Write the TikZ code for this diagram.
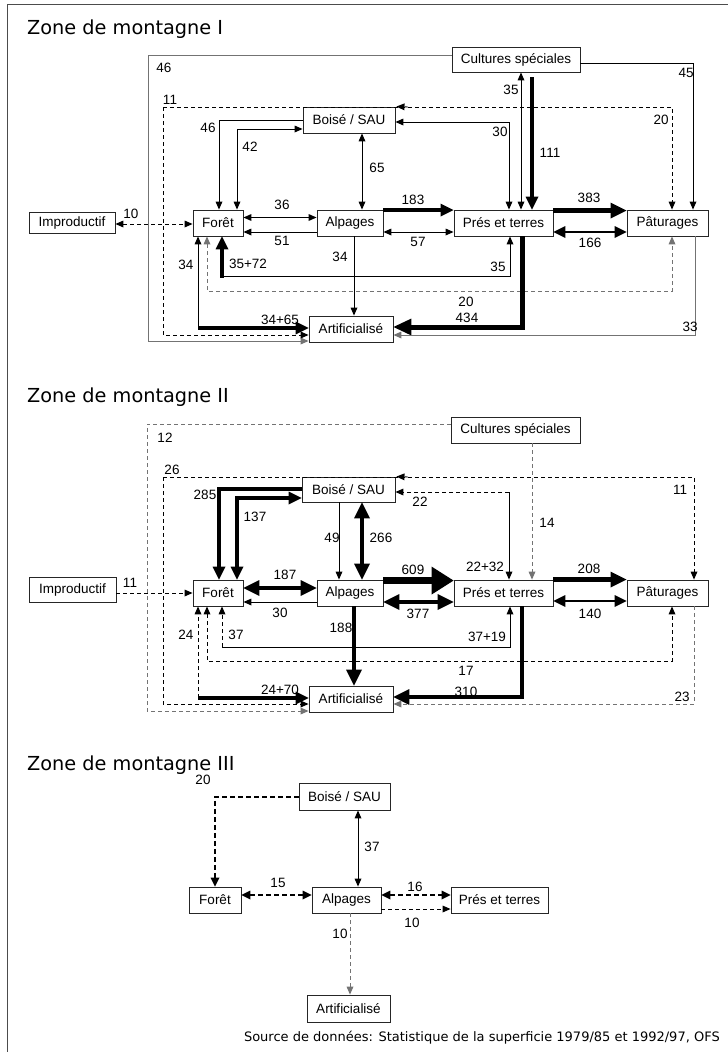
\documentclass[tikz,border=0pt]{standalone}
\usepackage{fontspec}
\setmainfont{Liberation Sans}
\newfontfamily\ttlfont{DejaVu Sans}
\usetikzlibrary{arrows.meta}
\newcommand\labfont{\fontsize{13.5}{15}\selectfont}
\newcommand\titfont{\ttlfont\fontsize{19.3}{22}\selectfont}
\newcommand\srcfont{\ttlfont\fontsize{13}{15}\selectfont}
\colorlet{grayone}{black!55}
\tikzset{
  box/.style={draw=black!85, line width=0.9pt, inner sep=0pt, font=\labfont, fill=white},
  lbl/.style={font=\labfont, inner sep=0pt},
  th/.style={line width=0.9pt, >={Triangle[length=8pt,width=7pt,line width=0pt]}},
  wtwo/.style={line width=2.5pt, >={Triangle[length=12pt,width=12pt,line width=0pt]}},
  wthree/.style={line width=3.2pt, >={Triangle[length=13pt,width=13pt,line width=0pt]}},
  wfour/.style={line width=4.2pt, >={Triangle[length=16pt,width=16pt,line width=0pt]}},
  wfive/.style={line width=5pt, >={Triangle[length=18pt,width=17pt,line width=0pt]}},
  wseven/.style={line width=7pt, >={Triangle[length=22pt,width=28pt,line width=0pt]}},
  ds/.style={dash pattern=on 4pt off 3pt},
  dzthree/.style={line width=2pt, dash pattern=on 5pt off 3pt, >={Triangle[length=9pt,width=9pt,line width=0pt]}},
}
\begin{document}
\begin{tikzpicture}[x=1pt,y=-1pt]
\useasboundingbox (0,0) rectangle (728,1052);
\fill[white] (0,0) rectangle (728,1052);
\draw[line width=1pt, black!70] (7,1052) -- (7,4) -- (728,4);

% ===================== Zone I =====================
\node[anchor=base west, inner sep=0pt, font=\titfont] (t1) at (27,34) {Zone de montagne I};

\node[box, minimum width=128pt, minimum height=25pt] (cs1) at (516,59.5) {Cultures spéciales};
\node[box, minimum width=92pt, minimum height=26pt] (bs1) at (349,120) {Boisé / SAU};
\node[box, minimum width=50pt, minimum height=26pt] (fo1) at (218,223) {Forêt};
\node[box, minimum width=66pt, minimum height=26pt] (al1) at (350,223) {Alpages};
\node[box, minimum width=99pt, minimum height=26pt] (pt1) at (503.5,223) {Prés et terres};
\node[box, minimum width=81pt, minimum height=26pt] (pa1) at (667.5,223) {Pâturages};
\node[box, minimum width=86pt, minimum height=21pt] (im1) at (72,223) {Improductif};
\node[box, minimum width=84pt, minimum height=26pt] (ar1) at (351,329) {Artificialisé};

\draw[th, grayone, ->] ([yshift=4.5pt]cs1.west) -| (148,341) -- ([yshift=-12pt]ar1.west);
\coordinate (cA) at (163,107);
\draw[th, ds, ->] (cA) |- ([yshift=-6pt]ar1.west);
\draw[th, ds, ->] (cA) -| ([xshift=4.5pt]pa1.north);
\draw[th, ->] (408,107) -- ([xshift=1pt]bs1.north east);
\draw[th, ->] ([yshift=-3.5pt]cs1.east) -| ([xshift=25.5pt]pa1.north);
\draw[th, <->] ([xshift=5pt]cs1.south) -- ([xshift=17.5pt]pt1.north);
\draw[wthree, ->] ([xshift=16pt,yshift=-5pt]cs1.south) -- ([xshift=28.5pt]pt1.north);
\draw[th, <->] ([xshift=5.5pt]pt1.north) |- ([yshift=-2pt]bs1.east);
\draw[th, ->] (bs1.west) -| ([xshift=1pt]fo1.north);
\draw[th, <->] ([xshift=19pt]fo1.north) |- ([yshift=-9pt]bs1.west);
\draw[th, <->] ([xshift=13pt]bs1.south) -- ([xshift=12pt]al1.north);
\draw[th, <->] ([yshift=5.5pt]fo1.east) -- ([yshift=5.5pt]al1.west);
\draw[th, ->] ([yshift=-9pt]al1.west) -- ([yshift=-9pt]fo1.east);
\draw[wthree, ->] ([yshift=-0.5pt]al1.north east) -- ([yshift=-0.5pt]pt1.north west);
\draw[th, <->] ([yshift=-9pt]al1.east) -- ([yshift=-9pt]pt1.west);
\draw[wfour, ->] ([yshift=-1pt]pt1.north east) -- ([yshift=-1pt]pa1.north west);
\draw[wtwo, <->] ([yshift=-9pt]pt1.east) -- ([yshift=-9pt]pa1.west);
\draw[th, ds, <->] ([yshift=-1pt]im1.east) -- ([yshift=-1pt]fo1.west);
\coordinate (k1) at (198,328);
\draw[th, ->] (k1) -- ([xshift=-20pt]fo1.south);
\draw[wthree, ->] (k1) -- ([yshift=1pt]ar1.west);
\draw[th, ds, grayone, <->] ([xshift=-11pt]fo1.south) |- (672,291) -- ([xshift=4.5pt]pa1.south);
\coordinate (k2) at (222,276);
\draw[th, ->] (k2) -| ([xshift=6.5pt]pt1.south);
\draw[wthree, ->] ([yshift=-1.5pt]k2) -- ([xshift=4pt]fo1.south);
\draw[th, ->] ([xshift=4pt]al1.south) -- ([xshift=3pt]ar1.north);
\draw[wfive, ->] ([xshift=18.5pt]pt1.south) |- ([yshift=2pt]ar1.east);
\draw[th, grayone, ->] ([xshift=27.5pt]pa1.south) |- ([yshift=-6pt]ar1.east);

\node[lbl] (a1) at (164,68) {46};
\node[lbl] (a2) at (170,100) {11};
\node[lbl] (a3) at (208,128) {46};
\node[lbl] (a4) at (250,147) {42};
\node[lbl] (a5) at (377,168) {65};
\node[lbl] (a6) at (511,90) {35};
\node[lbl] (a7) at (550,153) {111};
\node[lbl] (a8) at (500,132) {30};
\node[lbl] (a9) at (686,73) {45};
\node[lbl] (a10) at (661,120) {20};
\node[lbl] (a11) at (282,205) {36};
\node[lbl] (a12) at (282,241) {51};
\node[lbl] (a13) at (413,200) {183};
\node[lbl] (a14) at (418,242) {57};
\node[lbl] (a15) at (589,198) {383};
\node[lbl] (a16) at (590,243) {166};
\node[lbl] (a17) at (131,214) {10};
\node[lbl] (a18) at (186,265) {34};
\node[lbl] (a19) at (248,264) {35+72};
\node[lbl] (a20) at (340,257) {34};
\node[lbl] (a21) at (498,267) {35};
\node[lbl] (a22) at (466,302) {20};
\node[lbl] (a23) at (467,318) {434};
\node[lbl] (a24) at (280,320) {34+65};
\node[lbl] (a25) at (690,327) {33};

% ===================== Zone II =====================
\node[anchor=base west, inner sep=0pt, font=\titfont] (t2) at (27,402) {Zone de montagne II};

\node[box, minimum width=129pt, minimum height=26pt] (cs2) at (515.5,430) {Cultures spéciales};
\node[box, minimum width=93pt, minimum height=25pt] (bs2) at (348.5,489.5) {Boisé / SAU};
\node[box, minimum width=50pt, minimum height=26pt] (fo2) at (218,593) {Forêt};
\node[box, minimum width=66pt, minimum height=26pt] (al2) at (350,593) {Alpages};
\node[box, minimum width=99pt, minimum height=26pt] (pt2) at (503.5,593) {Prés et terres};
\node[box, minimum width=81pt, minimum height=26pt] (pa2) at (667.5,593) {Pâturages};
\node[box, minimum width=87pt, minimum height=25pt] (im2) at (72.5,590) {Improductif};
\node[box, minimum width=84pt, minimum height=26pt] (ar2) at (351,699) {Artificialisé};

\draw[th, ds, grayone, ->] ([yshift=6pt]cs2.west) -| (147,711) -- ([yshift=-12pt]ar2.west);
\coordinate (cB) at (163,477);
\draw[th, ds, ->] (cB) |- ([yshift=-5pt]ar2.west);
\draw[th, ds, ->] (cB) -| ([xshift=26.5pt]pa2.north);
\draw[th, ->] (408,477) -- ([xshift=1pt]bs2.north east);
\draw[wthree, ->] ([yshift=0.5pt]bs2.west) -| ([xshift=1pt]fo2.north);
\draw[wthree, <->] ([xshift=19pt]fo2.north) |- ([yshift=-8.5pt]bs2.west);
\draw[th, ->] ([xshift=-9.5pt]bs2.south) -- ([xshift=-11pt]al2.north);
\draw[wfour, <->] ([xshift=13.5pt]bs2.south) -- ([xshift=12pt]al2.north);
\coordinate (k3) at (509,492);
\draw[th, ->] (k3) -- ([xshift=5.5pt]pt2.north);
\draw[th, ds, ->] (k3) -- ([yshift=-2.5pt]bs2.east);
\draw[th, ds, grayone, ->] ([xshift=16.5pt]cs2.south) -- ([xshift=28.5pt]pt2.north);
\draw[th, ds, ->] ([yshift=-3pt]im2.east) -- (fo2.west);
\draw[wfour, <->] ([yshift=5pt]fo2.east) -- ([yshift=5pt]al2.west);
\draw[th, ->] ([yshift=-9pt]al2.west) -- ([yshift=-9pt]fo2.east);
\draw[wseven, ->] ([yshift=-1pt]al2.north east) -- ([yshift=-1pt]pt2.north west);
\draw[wfour, <->] ([yshift=-9pt]al2.east) -- ([yshift=-9pt]pt2.west);
\draw[wfour, ->] (pt2.north east) -- (pa2.north west);
\draw[wtwo, <->] ([yshift=-8pt]pt2.east) -- ([yshift=-8pt]pa2.west);
\draw[wfour, ->] ([xshift=4pt]al2.south) -- ([xshift=3pt]ar2.north);
\draw[wfour, ->] ([xshift=18.5pt]pt2.south) |- ([yshift=2pt]ar2.east);
\coordinate (k4) at (222,647);
\draw[th, ->] (k4) -| ([xshift=6.5pt]pt2.south);
\draw[th, ds, ->] (k4) -- ([xshift=4pt]fo2.south);
\draw[th, ds, <->] ([xshift=-11pt]fo2.south) |- (672,661) -- ([xshift=4.5pt]pa2.south);
\coordinate (k5) at (198,698);
\draw[th, ds, ->] (k5) -- ([xshift=-20pt]fo2.south);
\draw[wthree, ->] (k5) -- ([yshift=1pt]ar2.west);
\draw[th, ds, grayone, ->] ([xshift=26.5pt]pa2.south) |- ([yshift=-5pt]ar2.east);

\node[lbl] (b1) at (165,438) {12};
\node[lbl] (b2) at (172,470) {26};
\node[lbl] (b3) at (205,495) {285};
\node[lbl] (b4) at (255,517) {137};
\node[lbl] (b5) at (420,502) {22};
\node[lbl] (b6) at (332,538) {49};
\node[lbl] (b7) at (381,538) {266};
\node[lbl] (b8) at (547,523) {14};
\node[lbl] (b9) at (680,490) {11};
\node[lbl] (b10) at (485,567) {22+32};
\node[lbl] (b11) at (413,570) {609};
\node[lbl] (b12) at (589,569) {208};
\node[lbl] (b13) at (130,583) {11};
\node[lbl] (b14) at (285,575) {187};
\node[lbl] (b15) at (280,613) {30};
\node[lbl] (b16) at (418,614) {377};
\node[lbl] (b17) at (590,614) {140};
\node[lbl] (b18) at (186,635) {24};
\node[lbl] (b19) at (236,635) {37};
\node[lbl] (b20) at (341,628) {188};
\node[lbl] (b21) at (487,637) {37+19};
\node[lbl] (b22) at (466,671) {17};
\node[lbl] (b23) at (280,690) {24+70};
\node[lbl] (b24) at (466,692) {310};
\node[lbl] (b25) at (682,697) {23};

% ===================== Zone III =====================
\node[anchor=base west, inner sep=0pt, font=\titfont] (t3) at (27,770) {Zone de montagne III};

\node[box, minimum width=91pt, minimum height=27pt] (bs3) at (344.5,796.5) {Boisé / SAU};
\node[box, minimum width=52pt, minimum height=26pt] (fo3) at (215,900) {Forêt};
\node[box, minimum width=69pt, minimum height=26pt] (al3) at (346.5,900) {Alpages};
\node[box, minimum width=97pt, minimum height=26pt] (pt3) at (499.5,900) {Prés et terres};
\node[box, minimum width=83pt, minimum height=27pt] (ar3) at (348.5,1008.5) {Artificialisé};

\draw[dzthree, ->] (bs3.west) -| (fo3.north);
\draw[th, <->] ([xshift=13.5pt]bs3.south) -- ([xshift=11.5pt]al3.north);
\draw[dzthree, <->] ([yshift=5pt]fo3.east) -- ([yshift=5pt]al3.west);
\draw[dzthree, <->] ([yshift=5pt]al3.east) -- ([yshift=5pt]pt3.west);
\draw[th, ds, ->] ([yshift=-9pt]al3.east) -- ([yshift=-9pt]pt3.west);
\draw[th, ds, grayone, ->] ([xshift=3.5pt]al3.south) -- ([xshift=1.5pt]ar3.north);

\node[lbl] (c1) at (203,780) {20};
\node[lbl] (c2) at (372,847) {37};
\node[lbl] (c3) at (278,883) {15};
\node[lbl] (c4) at (415,887) {16};
\node[lbl] (c5) at (412,923) {10};
\node[lbl] (c6) at (340,934) {10};

\node[anchor=base east, inner sep=0pt, font=\srcfont] (src) at (720,1041) {Source de données: Statistique de la superficie 1979/85 et 1992/97, OFS};
\end{tikzpicture}
\end{document}
